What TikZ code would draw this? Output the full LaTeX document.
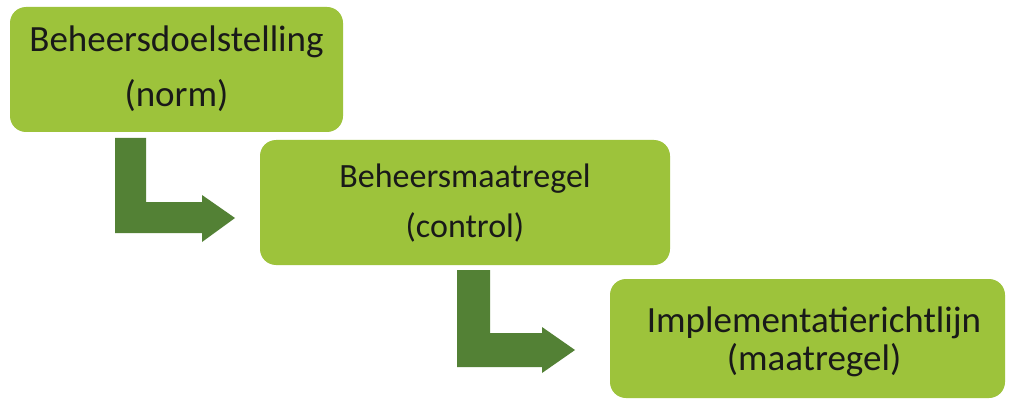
\documentclass[tikz,border=0pt]{standalone}
\usepackage{fontspec}
\setmainfont{Carlito}
\definecolor{boxgreen}{HTML}{9DC33B}
\definecolor{arrowgreen}{HTML}{538135}
\begin{document}
\begin{tikzpicture}[x=1pt,y=-1pt,
  box/.style={fill=boxgreen,draw=none,rounded corners=16pt,inner sep=0pt},
  lbl/.style={anchor=base,inner sep=0pt,text=black!90},
  bigarrow/.style={fill=arrowgreen,draw=none}]
\useasboundingbox (0,0) rectangle (1009,401);
\fill[white] (0,0) rectangle (1009,401);
% boxes
\path[box] (10,7) rectangle (343,132);
\node[inner sep=0pt] (b1) at (176.5,69.5) {};
\path[box] (260,140) rectangle (670,265);
\node[inner sep=0pt] (b2) at (465,202.5) {};
\path[box] (610,279) rectangle (1005,398);
\node[inner sep=0pt] (b3) at (807.5,338.5) {};
% labels
\node[lbl,font=\fontsize{37}{44}\selectfont] (t1a) at (176.5,52) {Beheersdoelstelling};
\node[lbl,font=\fontsize{37}{44}\selectfont] (t1b) at (176.5,107) {(norm)};
\node[lbl,font=\fontsize{34}{40}\selectfont] (t2a) at (465,187) {Beheersmaatregel};
\node[lbl,font=\fontsize{34}{40}\selectfont] (t2b) at (465,237) {(control)};
\node[lbl,font=\fontsize{37}{44}\selectfont] (t3a) at (814,332) {Implementatierichtlijn};
\node[lbl,font=\fontsize{37}{44}\selectfont] (t3b) at (814,370) {(maatregel)};
% bent arrows
\fill[bigarrow] (115,138) -- (146,138) -- (146,202) -- (202,202) -- (202,195)
  -- (235,218) -- (202,242) -- (202,233) -- (115,233) -- cycle;
\fill[bigarrow] (457,270) -- (490,270) -- (490,333) -- (542,333) -- (542,327)
  -- (575,350) -- (542,373) -- (542,367) -- (457,367) -- cycle;
\end{tikzpicture}
\end{document}
